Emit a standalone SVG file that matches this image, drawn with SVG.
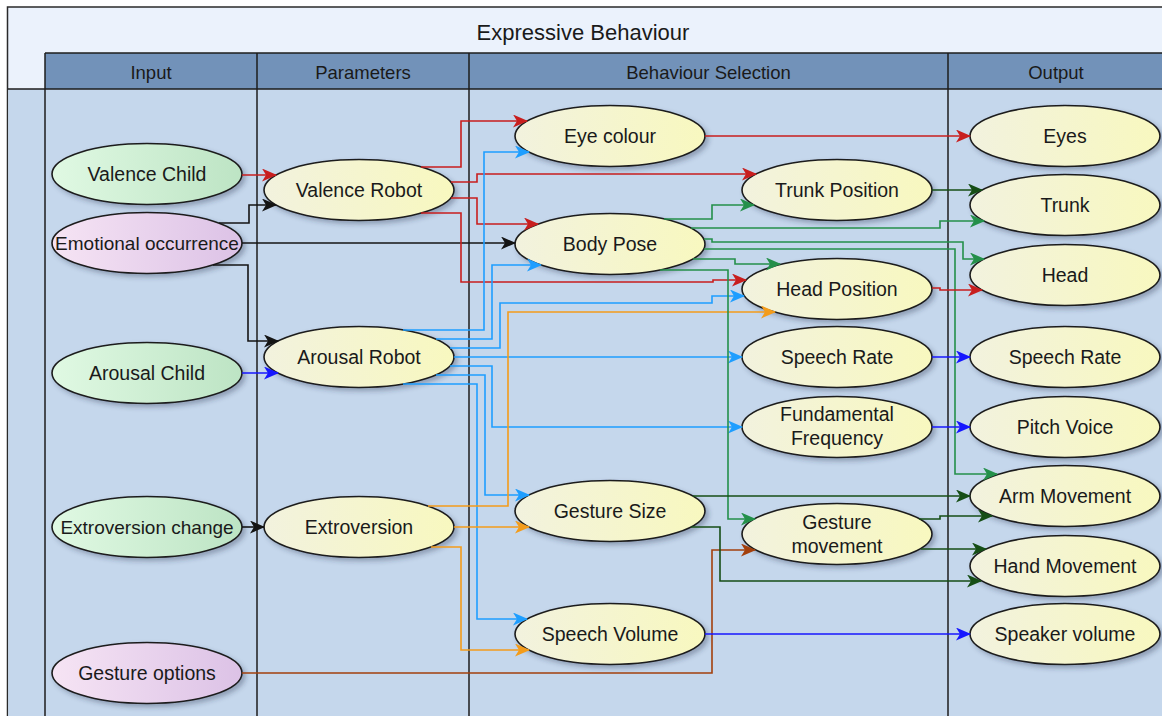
<svg xmlns="http://www.w3.org/2000/svg" width="1162" height="716" viewBox="0 0 1162 716">
  <style>
    .lane-line { stroke: #1c1c1c; stroke-width: 1.5; fill: none; }
    .title { font-family: "Liberation Sans", Arial, sans-serif; font-size: 22px; fill: #1a1a1a; text-anchor: middle; }
    .head { font-family: "Liberation Sans", Arial, sans-serif; font-size: 18.5px; fill: #1a1a1a; text-anchor: middle; }
    .node ellipse { stroke: #1c1c1c; stroke-width: 1.6; filter: url(#shadow); }
    .node text { font-family: "Liberation Sans", Arial, sans-serif; font-size: 19.5px; fill: #1a1a1a; text-anchor: middle; }
    .green ellipse { fill: url(#gGreen); }
    .pink ellipse { fill: url(#gPink); }
    .yellow ellipse { fill: url(#gYellow); }
    #connectors path { fill: none; stroke-width: 1.6; }
    .red { stroke: #C81E1E; marker-end: url(#aRed); }
    .black { stroke: #141414; marker-end: url(#aBlack); }
    .blue { stroke: #1616FF; marker-end: url(#aBlue); }
    .sky { stroke: #1E9EFF; marker-end: url(#aSky); }
    .orange { stroke: #F39C1B; marker-end: url(#aOrange); }
    .grn { stroke: #24904A; marker-end: url(#aGrn); }
    .dgrn { stroke: #164E16; marker-end: url(#aDgrn); }
    .brown { stroke: #A3400D; marker-end: url(#aBrown); }
  </style>
  <defs>
    <linearGradient id="gGreen" x1="0" y1="0" x2="1" y2="0">
      <stop offset="0" stop-color="#E0F9E3"/>
      <stop offset="1" stop-color="#BDE4C4"/>
    </linearGradient>
    <linearGradient id="gPink" x1="0" y1="0" x2="1" y2="0">
      <stop offset="0" stop-color="#F6E4F4"/>
      <stop offset="1" stop-color="#DCC2E6"/>
    </linearGradient>
    <linearGradient id="gYellow" x1="0" y1="0" x2="1" y2="0">
      <stop offset="0" stop-color="#F2F2DE"/>
      <stop offset="1" stop-color="#F8F8BF"/>
    </linearGradient>
    <filter id="shadow" x="-20%" y="-30%" width="140%" height="170%">
      <feDropShadow dx="3" dy="3" stdDeviation="2.5" flood-color="#2a3550" flood-opacity="0.35"/>
    </filter>
    <marker id="aRed" viewBox="0 0 15 13" refX="14" refY="6.5" markerWidth="15" markerHeight="13" markerUnits="userSpaceOnUse" orient="auto"><path d="M0,0 L15,6.5 L0,13 L4,6.5 z" fill="#C81E1E"/></marker>
    <marker id="aBlack" viewBox="0 0 15 13" refX="14" refY="6.5" markerWidth="15" markerHeight="13" markerUnits="userSpaceOnUse" orient="auto"><path d="M0,0 L15,6.5 L0,13 L4,6.5 z" fill="#141414"/></marker>
    <marker id="aBlue" viewBox="0 0 15 13" refX="14" refY="6.5" markerWidth="15" markerHeight="13" markerUnits="userSpaceOnUse" orient="auto"><path d="M0,0 L15,6.5 L0,13 L4,6.5 z" fill="#1616FF"/></marker>
    <marker id="aSky" viewBox="0 0 15 13" refX="14" refY="6.5" markerWidth="15" markerHeight="13" markerUnits="userSpaceOnUse" orient="auto"><path d="M0,0 L15,6.5 L0,13 L4,6.5 z" fill="#1E9EFF"/></marker>
    <marker id="aOrange" viewBox="0 0 15 13" refX="14" refY="6.5" markerWidth="15" markerHeight="13" markerUnits="userSpaceOnUse" orient="auto"><path d="M0,0 L15,6.5 L0,13 L4,6.5 z" fill="#F39C1B"/></marker>
    <marker id="aGrn" viewBox="0 0 15 13" refX="14" refY="6.5" markerWidth="15" markerHeight="13" markerUnits="userSpaceOnUse" orient="auto"><path d="M0,0 L15,6.5 L0,13 L4,6.5 z" fill="#24904A"/></marker>
    <marker id="aDgrn" viewBox="0 0 15 13" refX="14" refY="6.5" markerWidth="15" markerHeight="13" markerUnits="userSpaceOnUse" orient="auto"><path d="M0,0 L15,6.5 L0,13 L4,6.5 z" fill="#164E16"/></marker>
    <marker id="aBrown" viewBox="0 0 15 13" refX="14" refY="6.5" markerWidth="15" markerHeight="13" markerUnits="userSpaceOnUse" orient="auto"><path d="M0,0 L15,6.5 L0,13 L4,6.5 z" fill="#A3400D"/></marker>
  </defs>

  <!-- page background -->
  <rect x="0" y="0" width="1162" height="716" fill="#ffffff"/>

  <!-- swimlane pool -->
  <g id="pool">
    <rect x="7.5" y="7" width="1170" height="720" fill="#EBF2FC" stroke="#2a2a2a" stroke-width="1.5"/>
    <rect x="8.2" y="89" width="1162" height="640" fill="#C5D7EC"/>
    <rect x="45" y="53" width="1130" height="36" fill="#7292B9"/>
    <line class="lane-line" x1="45" y1="53" x2="1162" y2="53"/>
    <line class="lane-line" x1="8" y1="89" x2="1162" y2="89"/>
    <line class="lane-line" x1="45" y1="53" x2="45" y2="716"/>
    <line class="lane-line" x1="257" y1="53" x2="257" y2="716"/>
    <line class="lane-line" x1="469" y1="53" x2="469" y2="716"/>
    <line class="lane-line" x1="948" y1="53" x2="948" y2="716"/>
    <text class="title" x="583" y="40">Expressive Behaviour</text>
    <text class="head" x="151" y="79">Input</text>
    <text class="head" x="363" y="79">Parameters</text>
    <text class="head" x="708.5" y="79">Behaviour Selection</text>
    <text class="head" x="1056" y="79">Output</text>
  </g>

  <!-- Input lane -->
  <g id="valence-child" class="node green"><ellipse cx="147" cy="174" rx="95" ry="30.5"/><text x="147" y="181">Valence Child</text></g>
  <g id="emotional-occurrence" class="node pink"><ellipse cx="147" cy="243" rx="95" ry="30.5"/><text x="147" y="250" style="font-size:19px">Emotional occurrence</text></g>
  <g id="arousal-child" class="node green"><ellipse cx="147" cy="373" rx="95" ry="30.5"/><text x="147" y="380">Arousal Child</text></g>
  <g id="extroversion-change" class="node green"><ellipse cx="147" cy="527" rx="95" ry="30.5"/><text x="147" y="534" style="font-size:19px">Extroversion change</text></g>
  <g id="gesture-options" class="node pink"><ellipse cx="147" cy="673" rx="95" ry="30.5"/><text x="147" y="680">Gesture options</text></g>

  <!-- Parameters lane -->
  <g id="valence-robot" class="node yellow"><ellipse cx="359" cy="190" rx="95" ry="30.5"/><text x="359" y="197">Valence Robot</text></g>
  <g id="arousal-robot" class="node yellow"><ellipse cx="359" cy="357" rx="95" ry="30.5"/><text x="359" y="364">Arousal Robot</text></g>
  <g id="extroversion" class="node yellow"><ellipse cx="359" cy="527" rx="95" ry="30.5"/><text x="359" y="534">Extroversion</text></g>

  <!-- Behaviour Selection lane -->
  <g id="eye-colour" class="node yellow"><ellipse cx="610" cy="136" rx="95" ry="30.5"/><text x="610" y="143">Eye colour</text></g>
  <g id="body-pose" class="node yellow"><ellipse cx="610" cy="244" rx="95" ry="30.5"/><text x="610" y="251">Body Pose</text></g>
  <g id="gesture-size" class="node yellow"><ellipse cx="610" cy="511" rx="95" ry="30.5"/><text x="610" y="518">Gesture Size</text></g>
  <g id="speech-volume" class="node yellow"><ellipse cx="610" cy="634" rx="95" ry="30.5"/><text x="610" y="641">Speech Volume</text></g>
  <g id="trunk-position" class="node yellow"><ellipse cx="837" cy="190" rx="95" ry="30.5"/><text x="837" y="197">Trunk Position</text></g>
  <g id="head-position" class="node yellow"><ellipse cx="837" cy="289" rx="95" ry="30.5"/><text x="837" y="296">Head Position</text></g>
  <g id="speech-rate" class="node yellow"><ellipse cx="837" cy="357" rx="95" ry="30.5"/><text x="837" y="364">Speech Rate</text></g>
  <g id="fundamental-frequency" class="node yellow"><ellipse cx="837" cy="427" rx="95" ry="30.5"/><text x="837" y="421">Fundamental</text><text x="837" y="445">Frequency</text></g>
  <g id="gesture-movement" class="node yellow"><ellipse cx="837" cy="534" rx="95" ry="30.5"/><text x="837" y="529">Gesture</text><text x="837" y="553">movement</text></g>

  <!-- Output lane -->
  <g id="eyes" class="node yellow"><ellipse cx="1065" cy="136" rx="95" ry="30.5"/><text x="1065" y="143">Eyes</text></g>
  <g id="trunk" class="node yellow"><ellipse cx="1065" cy="205" rx="95" ry="30.5"/><text x="1065" y="212">Trunk</text></g>
  <g id="head" class="node yellow"><ellipse cx="1065" cy="275" rx="95" ry="30.5"/><text x="1065" y="282">Head</text></g>
  <g id="speech-rate-out" class="node yellow"><ellipse cx="1065" cy="357" rx="95" ry="30.5"/><text x="1065" y="364">Speech Rate</text></g>
  <g id="pitch-voice" class="node yellow"><ellipse cx="1065" cy="427" rx="95" ry="30.5"/><text x="1065" y="434">Pitch Voice</text></g>
  <g id="arm-movement" class="node yellow"><ellipse cx="1065" cy="496" rx="95" ry="30.5"/><text x="1065" y="503">Arm Movement</text></g>
  <g id="hand-movement" class="node yellow"><ellipse cx="1065" cy="566" rx="95" ry="30.5"/><text x="1065" y="573">Hand Movement</text></g>
  <g id="speaker-volume" class="node yellow"><ellipse cx="1065" cy="634" rx="95" ry="30.5"/><text x="1065" y="641">Speaker volume</text></g>

  <!-- connectors -->
  <g id="connectors">
    <!-- inputs to parameters -->
    <path class="red" d="M242,175 H276"/>
    <path class="black" d="M219,223 H249 V205 H276"/>
    <path class="black" d="M242,243 H515"/>
    <path class="black" d="M213,265 H248 V341 H278"/>
    <path class="blue" d="M242,373 H278"/>
    <path class="black" d="M242,527 H264"/>

    <!-- Valence Robot -->
    <path class="red" d="M421,167 H461 V121 H527"/>
    <path class="red" d="M451,182 H477 V174 H756"/>
    <path class="red" d="M451,198 H477 V224 H538"/>
    <path class="red" d="M421,213 H461 V282 H713 V280 H746"/>

    <!-- Arousal Robot -->
    <path class="sky" d="M403,330 H484 V152 H529"/>
    <path class="sky" d="M436,339 H492 V265 H541"/>
    <path class="sky" d="M450,348 H500 V303 H712 V296 H744"/>
    <path class="sky" d="M454,357 H742"/>
    <path class="sky" d="M450,366 H492 V427 H742"/>
    <path class="sky" d="M436,375 H485 V495 H529"/>
    <path class="sky" d="M403,384 H477 V619 H527"/>

    <!-- Extroversion -->
    <path class="orange" d="M428,506 H508 V312 H775"/>
    <path class="orange" d="M454,527 H529"/>
    <path class="orange" d="M431,547 H461 V650 H529"/>

    <!-- Gesture options -->
    <path class="brown" d="M242,673 H712 V550 H755"/>

    <!-- Body Pose -->
    <path class="grn" d="M664,219 H712 V205 H754"/>
    <path class="grn" d="M691,228 H940 V221 H984"/>
    <path class="grn" d="M704,239 H712 V242 H963 V259 H984"/>
    <path class="grn" d="M704,249 H955 V474 H997"/>
    <path class="grn" d="M693,259 H735 V264 H780"/>
    <path class="grn" d="M660,270 H728 V519 H755"/>

    <!-- behaviours to outputs -->
    <path class="red" d="M705,136 H970"/>
    <path class="dgrn" d="M932,190 H982"/>
    <path class="red" d="M932,288 H940 V290 H982"/>
    <path class="blue" d="M932,357 H970"/>
    <path class="blue" d="M932,427 H970"/>
    <path class="dgrn" d="M693,496 H970"/>
    <path class="dgrn" d="M691,527 H720 V581 H981"/>
    <path class="dgrn" d="M919,519 H940 V516 H992"/>
    <path class="dgrn" d="M921,549 H986"/>
    <path class="blue" d="M705,634 H970"/>
  </g>
</svg>
